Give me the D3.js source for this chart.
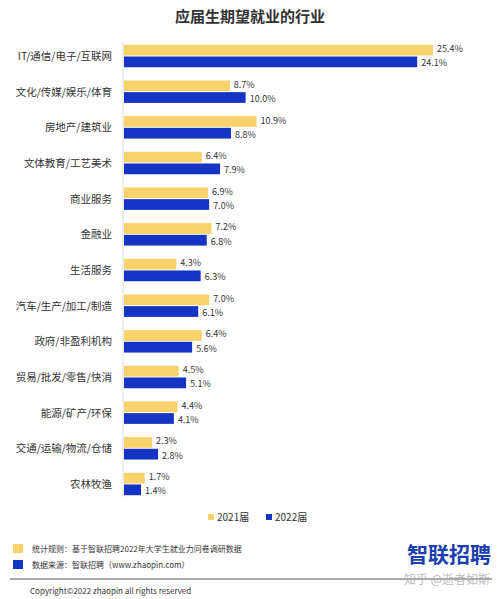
<!DOCTYPE html><html><head><meta charset="utf-8"><script src="https://cdn.jsdelivr.net/npm/d3@7"></script>
<style>body{margin:0;background:#fff}text{font-family:"Noto Sans CJK SC","Noto Sans",sans-serif}</style></head><body>
<svg id="c" width="501" height="599"></svg>
<script>
const categories=["IT/通信/电子/互联网","文化/传媒/娱乐/体育","房地产/建筑业","文体教育/工艺美术","商业服务","金融业","生活服务","汽车/生产/加工/制造","政府/非盈利机构","贸易/批发/零售/快消","能源/矿产/环保","交通/运输/物流/仓储","农林牧渔"];
const values2021=[25.4,8.7,10.9,6.4,6.9,7.2,4.3,7.0,6.4,4.5,4.4,2.3,1.7];
const values2022=[24.1,10.0,8.8,7.9,7.0,6.8,6.3,6.1,5.6,5.1,4.1,2.8,1.4];
const seriesNames=["2021届","2022届"];
const colors=["#f8d36c","#1634c4"];
const svg=d3.select("#c");
svg.append("text").attr("x",250).attr("y",22).attr("text-anchor","middle").attr("font-size",15).attr("font-weight","bold").attr("fill","#333").text("应届生期望就业的行业");
const x=d3.scaleLinear().domain([0,25.4]).range([123,432]);
const y=d3.scaleBand().domain(categories).range([43,497]).paddingInner(0.37).paddingOuter(0.05);
const sub=d3.scaleBand().domain([0,1]).range([0,y.bandwidth()]).paddingInner(0.08);
svg.append("line").attr("x1",123).attr("x2",123).attr("y1",42).attr("y2",497).attr("stroke","#ddd");
const g=svg.append("g").selectAll("g").data(categories).join("g").attr("transform",d=>`translate(0,${y(d)})`);
g.append("text").attr("x",112).attr("y",y.bandwidth()/2+4).attr("text-anchor","end").attr("font-size",10.5).attr("fill","#333").text(d=>d);
[values2021,values2022].forEach((vals,s)=>{
  g.append("rect").attr("x",x(0)+1).attr("y",sub(s)).attr("height",sub.bandwidth()).attr("width",(d,i)=>x(vals[i])-x(0)).attr("fill",colors[s]);
  g.append("text").attr("x",(d,i)=>x(vals[i])+5).attr("y",sub(s)+sub.bandwidth()/2+(s?4.5:2)).attr("font-size",9).attr("fill","#333").text((d,i)=>vals[i].toFixed(1)+"%");
});
const lg=svg.append("g");
seriesNames.forEach((n,i)=>{const lx=208+i*58;
 lg.append("rect").attr("x",lx).attr("y",514).attr("width",6).attr("height",6).attr("fill",colors[i]);
 lg.append("text").attr("x",lx+9).attr("y",521).attr("font-size",10).attr("fill","#333").text(n);});
svg.append("rect").attr("x",13).attr("y",544).attr("width",10).attr("height",9).attr("fill",colors[0]);
svg.append("rect").attr("x",13).attr("y",560).attr("width",10).attr("height",9).attr("fill",colors[1]);
svg.append("text").attr("x",32).attr("y",552).attr("font-size",8).attr("fill","#333").text("统计规则：基于智联招聘2022年大学生就业力问卷调研数据");
svg.append("text").attr("x",32).attr("y",568).attr("font-size",8).attr("fill","#333").text("数据来源：智联招聘（www.zhaopin.com）");
svg.append("text").attr("x",491).attr("y",562).attr("text-anchor","end").attr("font-size",21).attr("font-weight","bold").attr("fill","#1b3fae").text("智联招聘");
svg.append("line").attr("x1",10).attr("x2",492).attr("y1",579).attr("y2",579).attr("stroke","#555");
svg.append("text").attr("x",490).attr("y",584).attr("text-anchor","end").attr("font-size",12).attr("fill","#aaa").attr("opacity",0.8).text("知乎 @逝者如斯");
svg.append("text").attr("x",30).attr("y",594).attr("font-size",8).attr("fill","#333").text("Copyright©2022 zhaopin all rights reserved");
</script></body></html>
